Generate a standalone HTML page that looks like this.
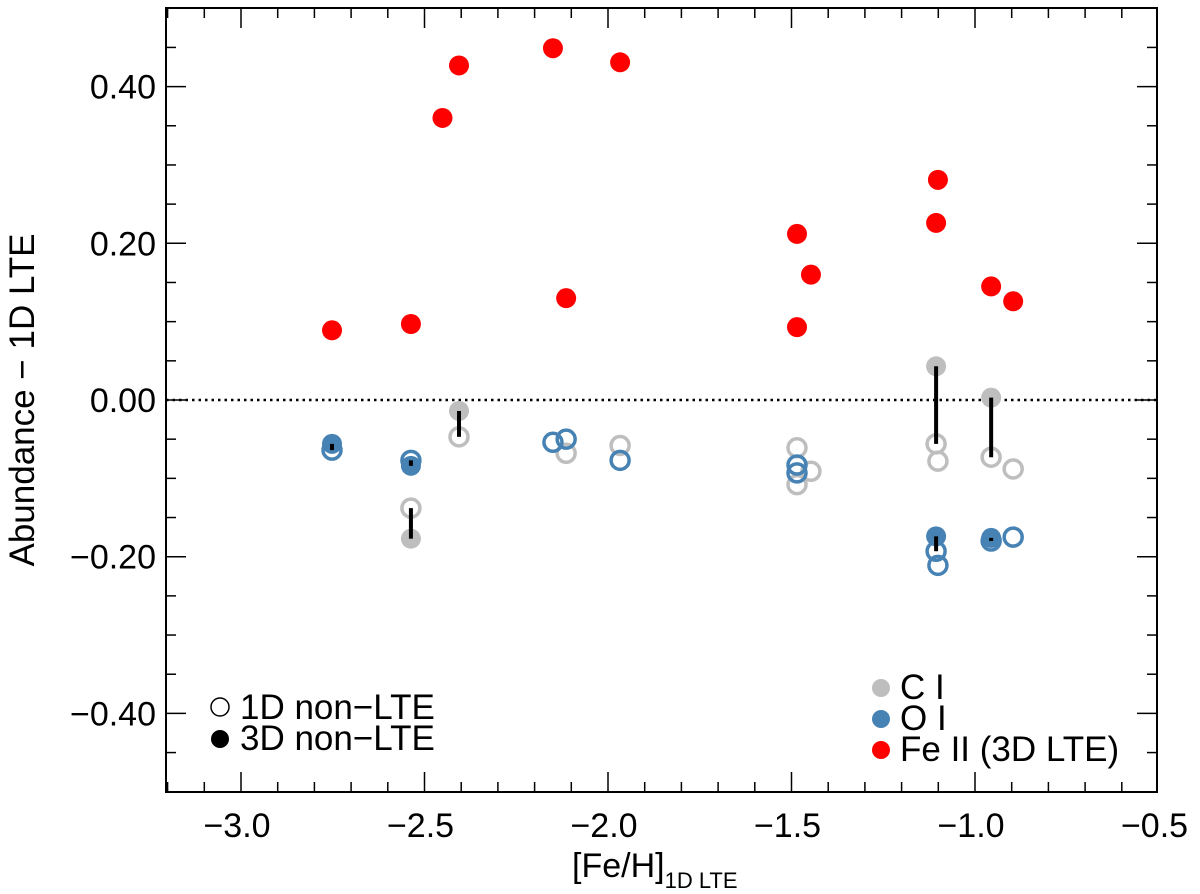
<!DOCTYPE html>
<html><head><meta charset="utf-8"><style>
html,body{margin:0;padding:0;background:#fff}
svg{display:block}
text{font-family:"Liberation Sans",Arial,sans-serif;fill:#000}
</style></head><body>
<svg id="chart" width="1200" height="894" viewBox="0 0 1200 894" xmlns="http://www.w3.org/2000/svg">
<g id="axes"></g>
<g id="marks"></g>
<g id="legend">
  <circle cx="220" cy="707" r="9" fill="#fff" stroke="#000" stroke-width="1.5"/>
  <text x="240" y="719" font-size="35">1D non−LTE</text>
  <circle cx="220" cy="739" r="9" fill="#000"/>
  <text x="240" y="750" font-size="35">3D non−LTE</text>
  <circle cx="881" cy="688" r="9" fill="#bebebe"/>
  <text x="900" y="699" font-size="35">C I</text>
  <circle cx="881" cy="719" r="9" fill="#4682b4"/>
  <text x="900" y="730" font-size="35">O I</text>
  <circle cx="881" cy="750" r="9" fill="#ff0000"/>
  <text x="900" y="761" font-size="35">Fe II (3D LTE)</text>
</g>
</svg>
<script>
const starX   = [-2.752,-2.537,-2.406,-2.451,-2.150,-2.114,-1.967,-1.485,-1.485,-1.447,-1.106,-1.101,-0.956,-0.896];
const feII    = [0.089,0.097,0.427,0.360,0.449,0.130,0.431,0.212,0.093,0.160,0.226,0.281,0.145,0.126];
const c1D     = [null,-0.138,-0.047,null,null,-0.068,-0.058,-0.061,-0.108,-0.091,-0.056,-0.078,-0.073,-0.088];
const c3D     = [null,-0.177,-0.014,null,null,null,null,null,null,null,0.043,null,0.003,null];
const o1D     = [-0.064,-0.077,null,null,-0.054,-0.050,-0.077,-0.083,-0.093,null,-0.193,-0.211,-0.180,-0.175];
const o3D     = [-0.056,-0.084,null,null,null,null,null,null,null,null,-0.174,null,-0.176,null];
const xTicks  = [-3.0,-2.5,-2.0,-1.5,-1.0,-0.5];
const xTickLabels = ["−3.0","−2.5","−2.0","−1.5","−1.0","−0.5"];
const yTicks  = [-0.4,-0.2,0.0,0.2,0.4];
const yTickLabels = ["−0.40","−0.20","0.00","0.20","0.40"];

const L=166,R=1157,T=8,B=792;
const X=v=>975+(v+1)*367;
const Y=v=>400-v*783.5;
const NS="http://www.w3.org/2000/svg";
function mk(parent,tag,attrs){const e=document.createElementNS(NS,tag);for(const k in attrs)e.setAttribute(k,attrs[k]);parent.appendChild(e);return e;}
const ax=document.getElementById('axes');
const mg=document.getElementById('marks');

let z=mk(ax,'line',{x1:L,x2:R,y1:Y(0),y2:Y(0),stroke:'#000','stroke-width':2.5,'stroke-dasharray':'2.5,4'});



let fr=mk(ax,'rect',{x:L,y:T,width:R-L,height:B-T,fill:'none',stroke:'#000','stroke-width':2});



for(let i=-32;i<=-5;i++){
  const v=i/10, px=X(v); if(px<L+1||px>R-1) continue;
  const major=(i%5===0), len=major?20:10;
  let t1=mk(ax,'line',{x1:px,x2:px,y1:B,y2:B-len,stroke:'#000','stroke-width':1.5});
  
  
  let t2=mk(ax,'line',{x1:px,x2:px,y1:T,y2:T+len,stroke:'#000','stroke-width':1.5});
  
  
}
xTicks.forEach((v,i)=>{
  const t=mk(ax,'text',{x:X(v)-4,y:837,'font-size':34,'text-anchor':'middle'});
  t.textContent=xTickLabels[i];
  
  
});
for(let i=-10;i<=10;i++){
  const v=i*0.05, py=Y(v); if(py<T+1||py>B-1) continue;
  const major=(i%4===0), len=major?20:10;
  let t1=mk(ax,'line',{x1:L,x2:L+len,y1:py,y2:py,stroke:'#000','stroke-width':1.5});
  
  
  let t2=mk(ax,'line',{x1:R,x2:R-len,y1:py,y2:py,stroke:'#000','stroke-width':1.5});
  
  
}
yTicks.forEach((v,i)=>{
  const t=mk(ax,'text',{x:156,y:Y(v)+12,'font-size':34,'text-anchor':'end'});
  t.textContent=yTickLabels[i];
  
  
});
const xt=mk(ax,'text',{x:572,y:877,'font-size':34,'text-anchor':'start'});
xt.innerHTML='[Fe/H]<tspan font-size="22" dy="11">1D LTE</tspan>';


const yt=mk(ax,'text',{x:0,y:0,'font-size':35,'text-anchor':'middle',transform:'translate(34,400) rotate(-90)'});
yt.textContent='Abundance − 1D LTE';



const GRAY='#bebebe', BLUE='#4682b4', RED='#ff0000';
function filled(arr,col,name){
  arr.forEach((v,i)=>{ if(v===null) return;
    const c=mk(mg,'circle',{cx:X(starX[i]),cy:Y(v),r:10,fill:col});
    
    
  });
}
function open(arr,col,name){
  arr.forEach((v,i)=>{ if(v===null) return;
    const c=mk(mg,'circle',{cx:X(starX[i]),cy:Y(v),r:9,fill:'none',stroke:col,'stroke-width':3.5});
    
    
  });
}
function links(a,b,name){
  a.forEach((v,i)=>{ if(v===null||b[i]===null) return;
    const l=mk(mg,'line',{x1:X(starX[i]),x2:X(starX[i]),y1:Y(v),y2:Y(b[i]),stroke:'#000','stroke-width':4});
    
    
  });
}
filled(c3D,GRAY,'c-3d-point');
open(c1D,GRAY,'c-1d-point');
filled(o3D,BLUE,'o-3d-point');
open(o1D,BLUE,'o-1d-point');
filled(feII,RED,'fe-ii-point');
links(c3D,c1D,'c-nlte-difference');
links(o3D,o1D,'o-nlte-difference');
</script>
</body></html>
